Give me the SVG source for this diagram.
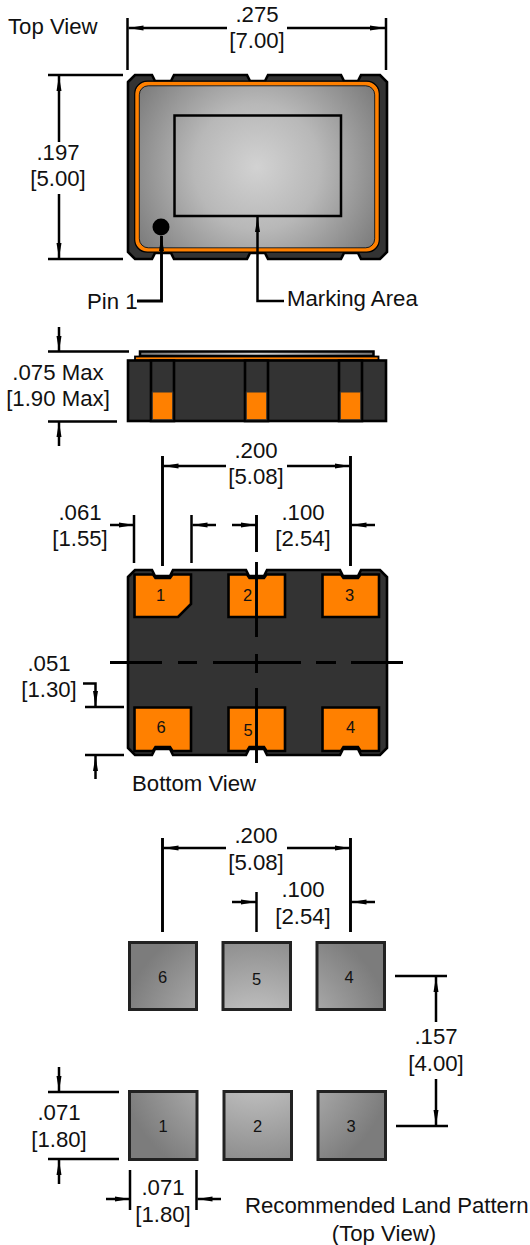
<svg xmlns="http://www.w3.org/2000/svg" width="530" height="1245" viewBox="0 0 530 1245">
<style>
text{font-family:"Liberation Sans",Arial,sans-serif;font-size:22.2px;fill:#111}
.m{text-anchor:middle}
.n{font-size:16.5px;text-anchor:middle}
.d{fill:none;stroke:#000;stroke-width:2.5}
.c{stroke:#000;stroke-width:2.9;fill:none}
.b{fill:#333;stroke:#000;stroke-width:2.6}
.o{fill:#ff8000;stroke:#000;stroke-width:2.6}
.g{fill:url(#land);stroke:#222;stroke-width:3}
.a{marker-end:url(#ah)}
</style>
<defs>
<marker id="ah" markerUnits="userSpaceOnUse" markerWidth="16" markerHeight="10" refX="15" refY="5" orient="auto"><path d="M0,2.500 L15,5 L0,7.500 Z" fill="#000"/></marker>
<radialGradient id="top" gradientUnits="userSpaceOnUse" cx="257" cy="167" r="140"><stop offset="0" stop-color="#d2d2d2"/><stop offset="0.45" stop-color="#b8b8b8"/><stop offset="1" stop-color="#7c7c7c"/></radialGradient>
<radialGradient id="land" gradientUnits="userSpaceOnUse" cx="256" cy="1050" r="140"><stop offset="0" stop-color="#d6d6d6"/><stop offset="1" stop-color="#7c7c7c"/></radialGradient>
<linearGradient id="lid"><stop offset="0" stop-color="#777"/><stop offset="0.5" stop-color="#d0d0d0"/><stop offset="1" stop-color="#777"/></linearGradient>
</defs>

<g id="top-view">
<path class="b" d="M128,82 L135,75 L152,75 L155,81 L171,81 L174,75 L247,75 L250,81 L265,81 L268,75 L341,75 L344,81 L358,81 L361,75 L380,75 L387,82 L387,252 L380,259 L361,259 L358,253 L344,253 L341,259 L268,259 L265,253 L250,253 L247,259 L174,259 L171,253 L155,253 L152,259 L135,259 L128,252 Z"/>
<rect x="137" y="83.500" width="240" height="166.500" rx="11" fill="url(#top)" stroke="#ff8000" stroke-width="4.200"/>
<rect x="134.700" y="81.200" width="244.600" height="171" rx="12.500" fill="none" stroke="#000" stroke-width="1.200"/>
<rect x="139.300" y="85.800" width="235.400" height="162" rx="9" fill="none" stroke="#000" stroke-width="0.800"/>
<rect x="174.500" y="115.500" width="166.500" height="100.500" fill="none" stroke="#000" stroke-width="2.500"/>
<circle cx="161" cy="227" r="8.500" fill="#000"/>
</g>

<g id="side-view">
<rect x="140" y="351.500" width="233.500" height="4.500" fill="url(#lid)" stroke="#000" stroke-width="2.500"/>
<rect x="135" y="356.500" width="243.500" height="4" fill="#ff8000" stroke="#000" stroke-width="1.800"/>
<rect class="b" x="128" y="360.500" width="258" height="60.500"/>
<rect class="b" x="151" y="360.500" width="23" height="60.500"/>
<rect class="b" x="245" y="360.500" width="23" height="60.500"/>
<rect class="b" x="339" y="360.500" width="23" height="60.500"/>
<rect x="152.300" y="392" width="20.400" height="27.700" fill="#ff8000" stroke="#333" stroke-width="1"/>
<rect x="246.300" y="392" width="20.400" height="27.700" fill="#ff8000" stroke="#333" stroke-width="1"/>
<rect x="340.300" y="392" width="20.400" height="27.700" fill="#ff8000" stroke="#333" stroke-width="1"/>
</g>

<g id="bottom-view">
<path class="b" d="M128,577 L135,570 L152,570 L155,576 L170,576 L173,570 L246,570 L249,576 L264,576 L267,570 L340,570 L343,576 L358,576 L361,570 L380,570 L387,577 L387,748 L380,755 L361,755 L358,749 L343,749 L340,755 L267,755 L264,749 L249,749 L246,755 L173,755 L170,749 L155,749 L152,755 L135,755 L128,748 Z"/>
<path id="pad1" class="o" d="M134.500,574.500 L153,574.500 L155.500,578 L170,578 L172.500,574.500 L191,574.500 L191,604 L178,617 L134.500,617 Z"/>
<path id="pad2" class="o" d="M228.500,574.500 L247,574.500 L249.500,578 L264,578 L266.500,574.500 L285,574.500 L285,617 L228.500,617 Z"/>
<path id="pad3" class="o" d="M322.500,574.500 L341,574.500 L343.500,578 L358,578 L360.500,574.500 L379,574.500 L379,617 L322.500,617 Z"/>
<path id="pad6" class="o" d="M134.500,707.500 L191,707.500 L191,751 L172.500,751 L170,747 L155.500,747 L153,751 L134.500,751 Z"/>
<path id="pad5" class="o" d="M228.500,707.500 L285,707.500 L285,751 L266.500,751 L264,747 L249.500,747 L247,751 L228.500,751 Z"/>
<path id="pad4" class="o" d="M322.500,707.500 L379,707.500 L379,751 L360.500,751 L358,747 L343.500,747 L341,751 L322.500,751 Z"/>
<text class="n" x="160.500" y="601">1</text>
<text class="n" x="247.500" y="601">2</text>
<text class="n" x="349.500" y="601">3</text>
<text class="n" x="161" y="733">6</text>
<text class="n" x="248" y="735.500">5</text>
<text class="n" x="350.500" y="733">4</text>
</g>

<g id="land-pattern">
<g id="land6"><rect class="g" x="129.500" y="942.500" width="67" height="67"/><text class="n" x="162.500" y="983">6</text></g>
<g id="land5"><rect class="g" x="223" y="942.500" width="67.500" height="67"/><text class="n" x="256.500" y="985">5</text></g>
<g id="land4"><rect class="g" x="317" y="942.500" width="67.500" height="67"/><text class="n" x="349" y="983">4</text></g>
<g id="land1"><rect class="g" x="129.500" y="1091.500" width="67.500" height="68"/><text class="n" x="163" y="1132">1</text></g>
<g id="land2"><rect class="g" x="224" y="1091.500" width="67.500" height="68"/><text class="n" x="257.500" y="1132">2</text></g>
<g id="land3"><rect class="g" x="318" y="1091.500" width="67.500" height="68"/><text class="n" x="351" y="1132">3</text></g>
</g>

<g id="connectors">
<path class="d" d="M127.500,18V70M386,18V70M48,75H123M48,259H123"/>
<path class="d a" d="M227,28H128.500"/><path class="d a" d="M287,28H385"/>
<path class="d a" d="M59,142V76"/><path class="d a" d="M59,194V258"/>
<path class="c a" d="M137,301H161.500V236"/>
<path class="d a" d="M284,301H257.500V217"/>
<path class="d" d="M48,351.500H129M48,421.500H117"/>
<path class="d a" d="M59,327V351"/><path class="d a" d="M59,446V422"/>
<path class="c" d="M162.500,456V566M350.500,456V566"/>
<path class="d" d="M134,515V563M191.500,515V563"/>
<path class="d a" d="M226,466H163.500"/><path class="d a" d="M287,466H349.500"/>
<path class="d a" d="M110,525H134"/><path class="d a" d="M216,525H192.500"/>
<path class="d a" d="M232,525H256"/><path class="d a" d="M375,525H351.500"/>
<path class="c" d="M256.500,515V552M256.500,562V637M256.500,654V673M256.500,688V763"/>
<path class="c" d="M110,662.500H162M178,662.500H197M213,662.500H301M316,662.500H336M351,662.500H403"/>
<path class="d" d="M85,707H124M85,755H124"/>
<path class="d a" d="M83,683.500H95.500V706"/>
<path class="d a" d="M95.500,779V756"/>
<path class="c" d="M162.500,838V932M350.500,838V932"/>
<path class="d" d="M256.500,892V932"/>
<path class="d a" d="M226,848H163.500"/><path class="d a" d="M287,848H349.500"/>
<path class="d a" d="M232,902H256"/><path class="d a" d="M375,902H351.500"/>
<path class="d" d="M395,976H447M396,1126H448"/>
<path class="d a" d="M436,1022V977"/><path class="d a" d="M436,1079V1125"/>
<path class="d" d="M48,1092H119M48,1159H119M130,1170V1210M196.500,1170V1210"/>
<path class="d a" d="M59,1067V1091"/><path class="d a" d="M59,1184V1160"/>
<path class="d a" d="M106,1199H129.500"/><path class="d a" d="M221,1199H197.500"/>
</g>

<g id="labels">
<text x="8" y="34">Top View</text>
<text class="m" x="257" y="22">.275</text><text class="m" x="257" y="48">[7.00]</text>
<text class="m" x="58" y="160">.197</text><text class="m" x="58" y="186">[5.00]</text>
<text x="87" y="309">Pin 1</text>
<text x="287" y="306">Marking Area</text>
<text class="m" x="58" y="380">.075 Max</text><text class="m" x="58" y="406">[1.90 Max]</text>
<text class="m" x="256" y="458">.200</text><text class="m" x="256" y="484">[5.08]</text>
<text class="m" x="80" y="520">.061</text><text class="m" x="80" y="546">[1.55]</text>
<text class="m" x="303" y="520">.100</text><text class="m" x="303" y="546">[2.54]</text>
<text class="m" x="49" y="671">.051</text><text class="m" x="49" y="697">[1.30]</text>
<text x="132" y="791">Bottom View</text>
<text class="m" x="256" y="843">.200</text><text class="m" x="256" y="870">[5.08]</text>
<text class="m" x="303" y="897">.100</text><text class="m" x="303" y="924">[2.54]</text>
<text class="m" x="436" y="1044">.157</text><text class="m" x="436" y="1071">[4.00]</text>
<text class="m" x="59" y="1120">.071</text><text class="m" x="59" y="1147">[1.80]</text>
<text class="m" x="163" y="1195">.071</text><text class="m" x="163" y="1222">[1.80]</text>
<text x="245" y="1213">Recommended Land Pattern</text>
<text class="m" x="384" y="1241">(Top View)</text>
</g>
</svg>
